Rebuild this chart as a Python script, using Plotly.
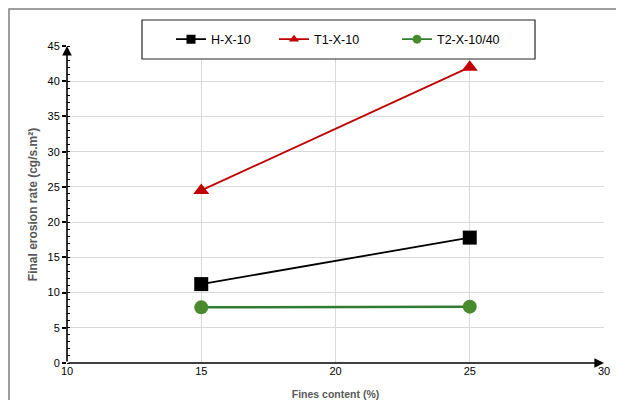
import plotly.graph_objects as go

fines = [15, 25]
h_x_10 = [11.2, 17.8]
t1_x_10 = [24.5, 42.0]
t2_x_10_40 = [7.9, 8.0]

series_names = ["H-X-10", "T1-X-10", "T2-X-10/40"]
x_ticks = [10, 15, 20, 25, 30]
y_ticks = [0, 5, 10, 15, 20, 25, 30, 35, 40, 45]

# page body has an 8px margin: work in figure coords (reference px - 8)
OFF = 8
W, H = 625 - 2 * OFF, 408 - 2 * OFF
L, T = 67 - OFF, 46 - OFF
RIGHT, BOTTOM = 604 - OFF, 363 - OFF
R, B = W - RIGHT, H - BOTTOM
pw, ph = RIGHT - L, BOTTOM - T

def px(x):
    return (x - OFF - L) / pw

def py(y):
    return (BOTTOM - (y - OFF)) / ph

styles = [
    dict(color="#000000", lw=1.8, sym="square", mc="#000000"),
    dict(color="#C00000", lw=1.8, sym="triangle-up", mc="#C00000"),
    dict(color="#2E7D32", lw=2.5, sym="circle", mc="#4A8A2E"),
]
series = [h_x_10, t1_x_10, t2_x_10_40]
legend_widths = [58, 78, 80]

fig = go.Figure()
for name, vals, st in zip(series_names, series, styles):
    fig.add_trace(go.Scatter(x=fines, y=vals, name=name, mode="lines+markers", showlegend=False,
                             line=dict(color=st["color"], width=st["lw"]),
                             marker=dict(symbol=st["sym"], size=14, color=st["mc"])))
for name, st, lwid in zip(series_names, styles, legend_widths):
    fig.add_trace(go.Scatter(x=[None], y=[None], name=name, mode="lines+markers", showlegend=True,
                             legendwidth=lwid,
                             line=dict(color=st["color"], width=1.8),
                             marker=dict(symbol=st["sym"], size=9, color=st["mc"])))

tick_font = dict(family="Liberation Sans, Arial", size=11, color="#000000")
ytitle_font = dict(family="Liberation Sans Narrow, Liberation Sans, Arial", size=12, color="#595959")
xtitle_font = dict(family="Liberation Sans Narrow, Liberation Sans, Arial", size=10.5, color="#595959")

fig.update_layout(
    width=W, height=H,
    margin=dict(l=L, r=R, t=T, b=B, autoexpand=False),
    paper_bgcolor="white", plot_bgcolor="white",
    showlegend=True,
    legend=dict(orientation="h", x=px(171), xanchor="left", y=py(39.5), yanchor="middle",
                bgcolor="rgba(0,0,0,0)", borderwidth=0,
                font=dict(family="Liberation Sans, Arial", size=12.5, color="#000000")),
    xaxis=dict(range=[10, 30], tickvals=x_ticks, ticktext=[str(v) for v in x_ticks],
               showgrid=True, gridcolor="#D9D9D9", gridwidth=1,
               zeroline=False, showline=False, ticks="",
               tickfont=tick_font,
               title=dict(text="<b>Fines content (%)</b>", font=xtitle_font, standoff=14)),
    yaxis=dict(range=[0, 45], tickvals=y_ticks, ticktext=[str(v) for v in y_ticks],
               showgrid=True, gridcolor="#D9D9D9", gridwidth=1,
               zeroline=False, showline=False,
               ticks="outside", ticklen=4, tickcolor="#000000", tickwidth=1.5,
               minor=dict(dtick=1, ticks="inside", ticklen=3, tickcolor="#000000", tickwidth=1.2, showgrid=False),
               tickfont=tick_font,
               title=dict(text="<b>Final erosion rate (cg/s.m²)</b>", font=ytitle_font, standoff=7)),
)

# axis lines with arrowheads
fig.add_annotation(x=30, y=0, ax=10, ay=0, xref="x", yref="y", axref="x", ayref="y",
                   text="", showarrow=True, arrowhead=2, arrowsize=1.2, arrowwidth=1.6,
                   arrowcolor="#000000", standoff=0, startstandoff=0)
fig.add_annotation(x=10, y=45, ax=10, ay=0, xref="x", yref="y", axref="x", ayref="y",
                   text="", showarrow=True, arrowhead=2, arrowsize=1.2, arrowwidth=1.6,
                   arrowcolor="#000000", standoff=0, startstandoff=0)

# outer chart frame (only left and top edges are visible), drawn as one open path
frame = dict(color="#7F7F7F", width=1.5)
fx, fy = OFF + 1 - OFF, OFF + 1 - OFF  # figure pixel coords of the frame corner
fig.add_shape(type="path", xref="paper", yref="paper",
              path=f"M {px(OFF + 1)} {py(OFF + H)} L {px(OFF + 1)} {py(OFF + 1)} L {px(OFF + W - 1)} {py(OFF + 1)}",
              line=frame, fillcolor="rgba(0,0,0,0)", layer="below")
# legend box
fig.add_shape(type="rect", xref="paper", yref="paper",
              x0=px(142), x1=px(535), y0=py(59), y1=py(20),
              line=dict(color="#262626", width=1.2), fillcolor="white", layer="above")

fig.write_html("out.html")
